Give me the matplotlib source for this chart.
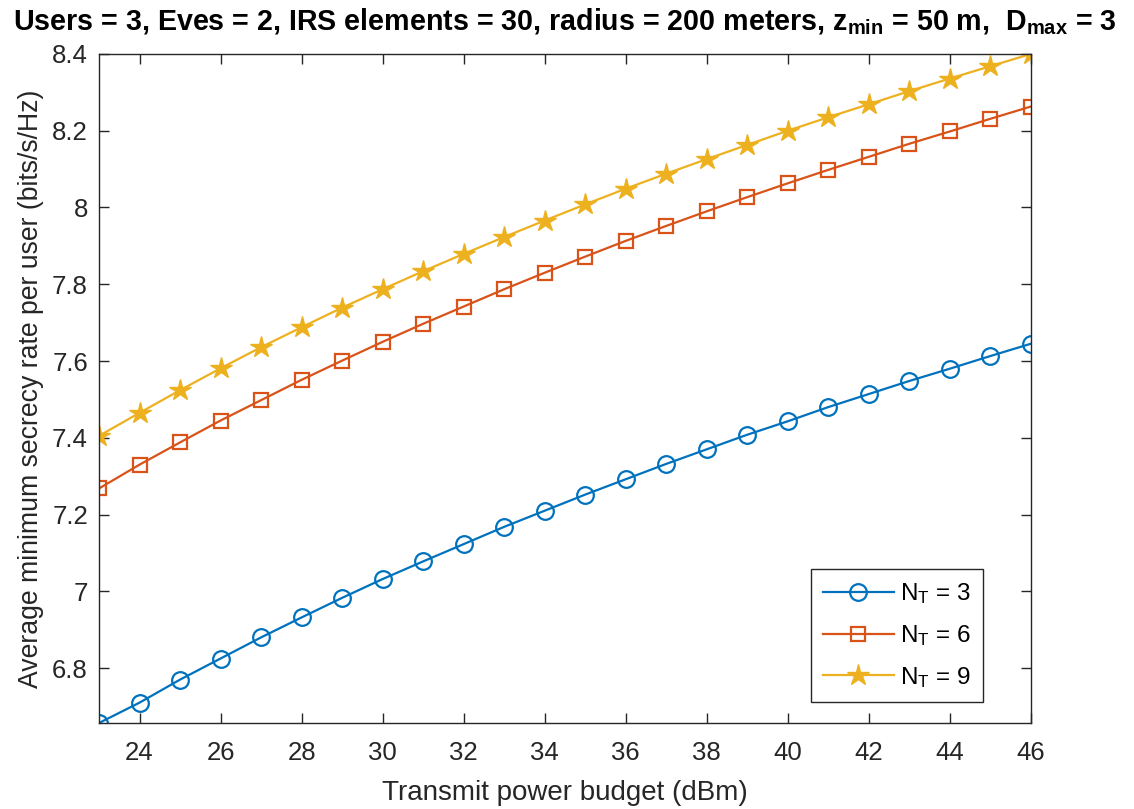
import matplotlib.pyplot as plt

plt.rcParams['font.family'] = ['Liberation Sans', 'DejaVu Sans']
plt.rcParams['mathtext.fontset'] = 'custom'
plt.rcParams['mathtext.rm'] = 'Liberation Sans'
plt.rcParams['mathtext.it'] = 'Liberation Sans:italic'
plt.rcParams['mathtext.bf'] = 'Liberation Sans:bold'
plt.rcParams['mathtext.default'] = 'regular'

# data
power_dbm = [23, 24, 25, 26, 27, 28, 29, 30, 31, 32, 33, 34,
             35, 36, 37, 38, 39, 40, 41, 42, 43, 44, 45, 46]
rate_nt3 = [6.657, 6.710, 6.770, 6.825, 6.880, 6.932, 6.983, 7.032, 7.078, 7.123, 7.168, 7.210,
            7.252, 7.292, 7.332, 7.370, 7.408, 7.443, 7.480, 7.514, 7.548, 7.580, 7.613, 7.645]
rate_nt6 = [7.268, 7.330, 7.388, 7.445, 7.498, 7.551, 7.601, 7.650, 7.697, 7.742, 7.787, 7.830,
            7.872, 7.913, 7.952, 7.990, 8.027, 8.063, 8.098, 8.132, 8.166, 8.198, 8.231, 8.263]
rate_nt9 = [7.405, 7.465, 7.524, 7.581, 7.636, 7.688, 7.739, 7.787, 7.834, 7.879, 7.923, 7.966,
            8.008, 8.049, 8.088, 8.126, 8.163, 8.200, 8.235, 8.269, 8.303, 8.336, 8.368, 8.400]
labels = ['$N_T$ = 3', '$N_T$ = 6', '$N_T$ = 9']
x_ticks = [24, 26, 28, 30, 32, 34, 36, 38, 40, 42, 44, 46]
y_ticks = [6.8, 7.0, 7.2, 7.4, 7.6, 7.8, 8.0, 8.2, 8.4]
y_ticklabels = ['6.8', '7', '7.2', '7.4', '7.6', '7.8', '8', '8.2', '8.4']

fig = plt.figure(figsize=(11.34, 8.09), dpi=100)
ax = fig.add_axes([0.0873, 0.1063, 0.8217, 0.827])

ax.plot(power_dbm, rate_nt3, color='#0072BD', lw=1.6, marker='o', ms=12,
        mfc='none', mew=1.6, label=labels[0])
ax.plot(power_dbm, rate_nt6, color='#D95319', lw=1.6, marker='s', ms=10,
        mfc='none', mew=1.6, label=labels[1])
ax.plot(power_dbm, rate_nt9, color='#EDB120', lw=1.6, marker='*', ms=16,
        mew=1.0, label=labels[2])

ax.set_xlim(min(power_dbm), max(power_dbm))
ax.set_ylim(min(rate_nt3), max(rate_nt9))
ax.set_xticks(x_ticks)
ax.set_yticks(y_ticks)
ax.set_yticklabels(y_ticklabels)

gray = '#262626'
for s in ax.spines.values():
    s.set_color(gray)
    s.set_linewidth(1.0)
ax.tick_params(direction='in', top=True, right=True, length=7, width=1.0,
               colors=gray, labelsize=18.5)
ax.tick_params(axis='x', pad=13)
ax.tick_params(axis='y', pad=8)

ax.set_xlabel('Transmit power budget (dBm)', fontsize=20, color=gray, labelpad=11)
ax.set_ylabel('Average minimum secrecy rate per user (bits/s/Hz)', fontsize=19.2,
              color=gray, labelpad=6)
ax.set_title(r'Users = 3, Eves = 2, IRS elements = 30, radius = 200 meters, '
             r'$\mathbf{z_{min}}$ = 50 m,  $\mathbf{D_{max}}$ = 3',
             fontsize=20.6, fontweight='bold', pad=17)

leg = ax.legend(loc='lower right', bbox_to_anchor=(0.9485, 0.0314), borderaxespad=0,
                fontsize=17.5, handlelength=2.9, handletextpad=0.25, borderpad=0.5,
                labelspacing=0.7, fancybox=False, edgecolor=gray, framealpha=1)
leg.get_frame().set_linewidth(1.0)

fig.savefig('out.png', dpi=100)
